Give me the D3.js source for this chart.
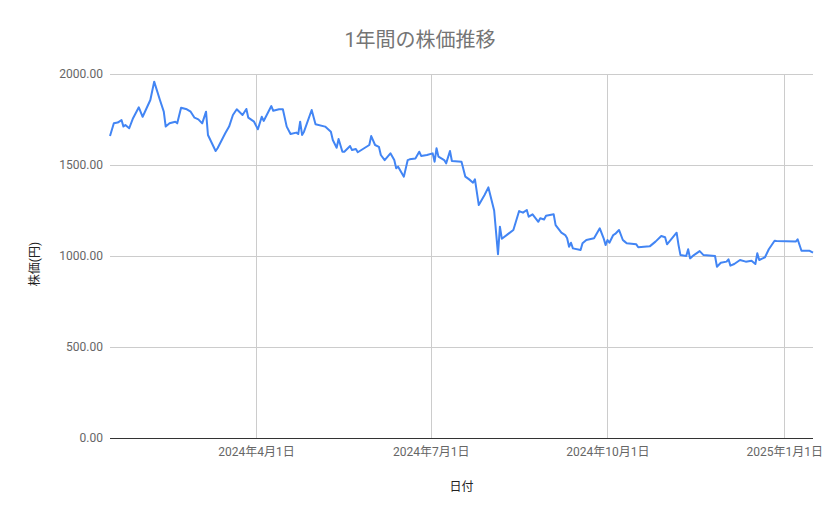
<!DOCTYPE html>
<html>
<head>
<meta charset="utf-8">
<script src="https://cdn.jsdelivr.net/npm/d3@7"></script>
<style>
  body { margin: 0; background: #fff; }
  svg { font-family: Roboto, "Noto Sans CJK JP", sans-serif; }
</style>
</head>
<body>
<div id="chart"></div>
<script>
const chartTitle = "1年間の株価推移";
const xTitle = "日付";
const yTitle = "株価(円)";

const dates = [
  "2024-01-16", "2024-01-18", "2024-01-20", "2024-01-22", "2024-01-23", "2024-01-24", "2024-01-26",
  "2024-01-28", "2024-01-31", "2024-02-02", "2024-02-06", "2024-02-08", "2024-02-11", "2024-02-13",
  "2024-02-14", "2024-02-16", "2024-02-19", "2024-02-20", "2024-02-22", "2024-02-25", "2024-02-27",
  "2024-02-29", "2024-03-02", "2024-03-04", "2024-03-06", "2024-03-07", "2024-03-11", "2024-03-12",
  "2024-03-16", "2024-03-18", "2024-03-20", "2024-03-22", "2024-03-25", "2024-03-27", "2024-03-28",
  "2024-03-31", "2024-04-02", "2024-04-04", "2024-04-05", "2024-04-09", "2024-04-10", "2024-04-13",
  "2024-04-15", "2024-04-17", "2024-04-19", "2024-04-22", "2024-04-23", "2024-04-24", "2024-04-25",
  "2024-04-26", "2024-04-30", "2024-05-02", "2024-05-07", "2024-05-10", "2024-05-11", "2024-05-13",
  "2024-05-14", "2024-05-16", "2024-05-17", "2024-05-20", "2024-05-21", "2024-05-23", "2024-05-24",
  "2024-05-30", "2024-05-31", "2024-06-02", "2024-06-04", "2024-06-05", "2024-06-07", "2024-06-10",
  "2024-06-12", "2024-06-13", "2024-06-14", "2024-06-17", "2024-06-19", "2024-06-20", "2024-06-23",
  "2024-06-25", "2024-06-26", "2024-06-29", "2024-07-02", "2024-07-03", "2024-07-04", "2024-07-05",
  "2024-07-08", "2024-07-09", "2024-07-11", "2024-07-12", "2024-07-17", "2024-07-19", "2024-07-21",
  "2024-07-23", "2024-07-24", "2024-07-26", "2024-07-29", "2024-07-31", "2024-08-03", "2024-08-05",
  "2024-08-06", "2024-08-07", "2024-08-10", "2024-08-13", "2024-08-16", "2024-08-18", "2024-08-20",
  "2024-08-21", "2024-08-23", "2024-08-26", "2024-08-27", "2024-08-29", "2024-08-30", "2024-09-03",
  "2024-09-04", "2024-09-07", "2024-09-09", "2024-09-10", "2024-09-11", "2024-09-12", "2024-09-13",
  "2024-09-17", "2024-09-18", "2024-09-20", "2024-09-24", "2024-09-27", "2024-09-29", "2024-09-30",
  "2024-10-01", "2024-10-02", "2024-10-04", "2024-10-05", "2024-10-07", "2024-10-09", "2024-10-10",
  "2024-10-11", "2024-10-16", "2024-10-17", "2024-10-23", "2024-10-26", "2024-10-29", "2024-10-31",
  "2024-11-01", "2024-11-06", "2024-11-07", "2024-11-08", "2024-11-11", "2024-11-12", "2024-11-13",
  "2024-11-15", "2024-11-18", "2024-11-20", "2024-11-26", "2024-11-27", "2024-11-29", "2024-12-02",
  "2024-12-03", "2024-12-04", "2024-12-06", "2024-12-09", "2024-12-12", "2024-12-15", "2024-12-17",
  "2024-12-18", "2024-12-19", "2024-12-22", "2024-12-24", "2024-12-27", "2024-12-28", "2025-01-07",
  "2025-01-08", "2025-01-10", "2025-01-14", "2025-01-16"
];

const prices = [
  1659, 1729, 1733, 1747, 1711, 1720, 1702,
  1757, 1817, 1765, 1857, 1958, 1857, 1793,
  1711, 1729, 1738, 1729, 1815, 1806, 1793,
  1760, 1751, 1729, 1793, 1665, 1577, 1592,
  1674, 1711, 1775, 1806, 1775, 1808, 1760,
  1738, 1696, 1765, 1742, 1824, 1798, 1806,
  1806, 1711, 1670, 1678, 1670, 1738, 1665,
  1683, 1802, 1724, 1711, 1683, 1637, 1595,
  1643, 1573, 1573, 1604, 1582, 1588, 1570,
  1610, 1659, 1610, 1600, 1555, 1527, 1564,
  1527, 1482, 1491, 1436, 1527, 1531, 1536,
  1573, 1550, 1555, 1564, 1518, 1592, 1546,
  1527, 1509, 1577, 1522, 1518, 1436, 1421,
  1403, 1421, 1280, 1335, 1377, 1250, 1010,
  1161, 1095, 1119, 1143, 1247, 1238, 1253,
  1216, 1229, 1188, 1207, 1201, 1221, 1229,
  1170, 1128, 1115, 1097, 1051, 1073, 1042,
  1033, 1070, 1088, 1097, 1152, 1097, 1060,
  1088, 1073, 1115, 1121, 1143, 1088, 1079,
  1070, 1064, 1048, 1053, 1079, 1110, 1103,
  1064, 1128, 1060, 1005, 1000, 1037, 987,
  1005, 1027, 1005, 1000, 941, 963, 969,
  982, 947, 956, 978, 969, 974, 956,
  1015, 978, 993, 1037, 1084, 1082, 1079,
  1092, 1029, 1029, 1018
];

const yTicks = [0, 500, 1000, 1500, 2000];
const xTicks = ["2024-04-01", "2024-07-01", "2024-10-01", "2025-01-01"];
const xDomain = ["2024-01-16", "2025-01-16"];

const width = 839;
const height = 519;
const marginLeft = 110;
const marginRight = 26;
const marginTop = 74;
const marginBottom = 81;

const parseDate = d3.timeParse("%Y-%m-%d");
const points = dates.map((d, i) => ({ date: parseDate(d), value: prices[i] }));

const svg = d3.select("#chart")
  .append("svg")
  .attr("width", width)
  .attr("height", height);

const xScale = d3.scaleTime()
  .domain(xDomain.map(parseDate))
  .range([marginLeft, width - marginRight]);

const yScale = d3.scaleLinear()
  .domain([0, 2000])
  .range([height - marginBottom, marginTop]);

const jpDate = d => `${d.getFullYear()}年${d.getMonth() + 1}月${d.getDate()}日`;

// grid
svg.append("g")
  .selectAll("line")
  .data(yTicks.filter(t => t > 0))
  .join("line")
  .attr("x1", marginLeft)
  .attr("x2", width - marginRight)
  .attr("y1", d => yScale(d) + 0.5)
  .attr("y2", d => yScale(d) + 0.5)
  .attr("stroke", "#cccccc");

svg.append("g")
  .selectAll("line")
  .data(xTicks.map(parseDate))
  .join("line")
  .attr("x1", d => Math.round(xScale(d)) + 0.5)
  .attr("x2", d => Math.round(xScale(d)) + 0.5)
  .attr("y1", marginTop)
  .attr("y2", height - marginBottom)
  .attr("stroke", "#cccccc");

// y axis labels
const yAxis = d3.axisLeft(yScale)
  .tickValues(yTicks)
  .tickFormat(d3.format(".2f"))
  .tickSize(0)
  .tickPadding(7);

const yAxisGroup = svg.append("g")
  .attr("transform", `translate(${marginLeft}, 0)`)
  .call(yAxis);
yAxisGroup.select(".domain").remove();
yAxisGroup.selectAll("text")
  .attr("fill", "#666666")
  .attr("font-size", 12)
  .attr("font-family", "Roboto, sans-serif");

// x axis labels
const xAxis = d3.axisBottom(xScale)
  .tickValues(xTicks.map(parseDate))
  .tickFormat(jpDate)
  .tickSize(0)
  .tickPadding(9);

const xAxisGroup = svg.append("g")
  .attr("transform", `translate(0, ${height - marginBottom})`)
  .call(xAxis);
xAxisGroup.select(".domain").remove();
xAxisGroup.selectAll("text")
  .attr("fill", "#666666")
  .attr("font-size", 12)
  .attr("font-family", "Roboto, 'Noto Sans CJK JP', sans-serif");

// baseline
svg.append("line")
  .attr("x1", marginLeft)
  .attr("x2", width - marginRight)
  .attr("y1", yScale(0) + 0.5)
  .attr("y2", yScale(0) + 0.5)
  .attr("stroke", "#333333");

// series
const line = d3.line()
  .x(d => xScale(d.date))
  .y(d => yScale(d.value));

svg.append("path")
  .datum(points)
  .attr("fill", "none")
  .attr("stroke", "#4285f4")
  .attr("stroke-width", 2)
  .attr("stroke-linejoin", "round")
  .attr("d", line);

// titles
svg.append("text")
  .attr("x", 420)
  .attr("y", 47)
  .attr("text-anchor", "middle")
  .attr("font-size", 20)
  .attr("fill", "#757575")
  .text(chartTitle);

svg.append("text")
  .attr("x", (marginLeft + width - marginRight) / 2)
  .attr("y", 491)
  .attr("text-anchor", "middle")
  .attr("font-size", 12)
  .attr("fill", "#222222")
  .text(xTitle);

svg.append("text")
  .attr("transform", `translate(39, 264) rotate(-90)`)
  .attr("text-anchor", "middle")
  .attr("font-size", 12)
  .attr("fill", "#222222")
  .text(yTitle);
</script>
</body>
</html>
